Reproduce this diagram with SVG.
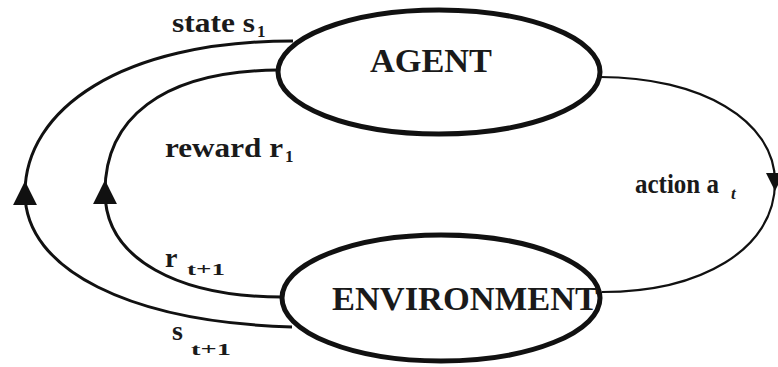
<svg xmlns="http://www.w3.org/2000/svg" width="778" height="367" viewBox="0 0 778 367">
<style>
.node{fill:#fff;stroke:#111;stroke-width:5}
.big{font-family:"Liberation Serif","Times New Roman",serif;font-weight:bold;font-size:34px;fill:#1a1a1a}
.lbl{font-family:"Liberation Serif","Times New Roman",serif;font-weight:bold;font-size:28px;fill:#1a1a1a}
.sub{font-family:"Liberation Serif","Times New Roman",serif;font-weight:bold;font-size:17px;fill:#1a1a1a}
.conn{fill:none;stroke:#111;stroke-width:3}
.thin{stroke-width:2.2}
</style>
<defs>
<marker id="arr" markerUnits="userSpaceOnUse" markerWidth="26" markerHeight="26" viewBox="0 0 24 24" refX="12" refY="12" orient="auto">
<polygon points="1,1 23,12 1,23" fill="#111"/>
</marker>
<marker id="arr2" markerUnits="userSpaceOnUse" markerWidth="20" markerHeight="20" viewBox="0 0 20 20" refX="10" refY="10" orient="auto">
<polygon points="1,1 19,10 1,19" fill="#111"/>
</marker>
</defs>
<rect width="778" height="367" fill="#fff"/>
<g id="connectors">
<path id="state" class="conn" marker-mid="url(#arr)" d="M 292 327 C 130 322, 25 270, 25 193 C 25 110, 120 41, 293 41"/>
<path id="reward" class="conn" marker-mid="url(#arr)" d="M 282 297 C 180 297, 105 260, 105 192 C 105 120, 160 71, 278 70"/>
<path id="action" class="conn thin" marker-mid="url(#arr2)" d="M 600 77 C 700 77, 775 120, 775 182 C 775 250, 700 292, 602 292"/>
</g>
<g id="agent">
<ellipse class="node" cx="439" cy="72" rx="161" ry="62"/>
<text class="big" x="370" y="72" textLength="122" lengthAdjust="spacingAndGlyphs">AGENT</text>
</g>
<g id="environment">
<ellipse class="node" cx="441" cy="298" rx="159" ry="63"/>
<text class="big" x="332" y="310" textLength="266" lengthAdjust="spacingAndGlyphs">ENVIRONMENT</text>
</g>
<g id="labels">
<text class="lbl" x="172" y="32" textLength="83" lengthAdjust="spacingAndGlyphs">state s</text>
<text class="sub" x="257" y="37">1</text>
<text class="lbl" x="165" y="157" textLength="118" lengthAdjust="spacingAndGlyphs">reward r</text>
<text class="sub" x="285" y="162">1</text>
<text class="lbl" x="635" y="193" font-size="25" textLength="84" lengthAdjust="spacingAndGlyphs">action a</text>
<text class="sub" x="731" y="199" font-style="italic" font-size="13">t</text>
<text class="lbl" x="165" y="267">r</text>
<text class="sub" x="187" y="275" font-size="19" textLength="38" lengthAdjust="spacingAndGlyphs">t+1</text>
<text class="lbl" x="172" y="340">s</text>
<text class="sub" x="191" y="355" font-size="19" textLength="40" lengthAdjust="spacingAndGlyphs">t+1</text>
</g>
</svg>
